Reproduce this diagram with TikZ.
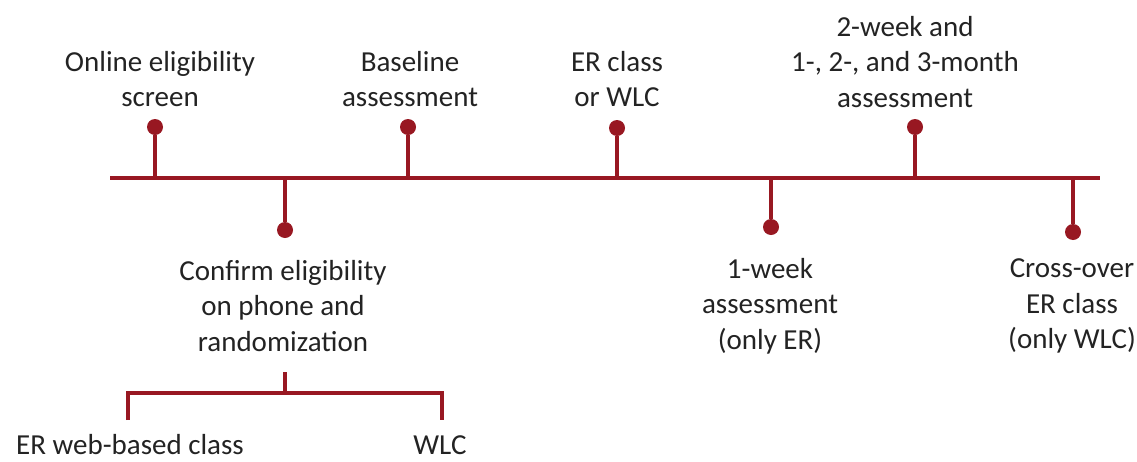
\documentclass[tikz,border=0pt]{standalone}
\usepackage{fontspec}
\setmainfont{Carlito}
\usetikzlibrary{positioning}
\definecolor{timered}{RGB}{152, 24, 34}
\definecolor{labelgray}{RGB}{35, 35, 35}

\begin{document}
\begin{tikzpicture}[
  x=1pt, y=-1pt,
  font=\fontsize{29}{35.5}\selectfont,
  axis/.style={draw=timered, line width=3.8pt},
  stem/.style={draw=timered, line width=3.2pt},
  dot/.style={circle, fill=timered, inner sep=0pt, minimum size=16pt},
  event/.style={align=center, inner sep=0pt, text=labelgray}
]
\useasboundingbox (0,0) rectangle (1137,461);

% time axis
\coordinate (tstart) at (110,178);
\coordinate (tend) at (1100,178);
\draw[axis] (tstart) -- (tend);

% events above the axis
\node[dot] (screen) at (155,127) {};
\node[dot] (baseline) at (408,127) {};
\node[dot] (erclass) at (617,128) {};
\node[dot] (followup) at (915,127) {};
\foreach \d in {screen, baseline, erclass, followup}
  \draw[stem] (\d) -- (\d |- tstart);

\node[event] (screentxt) at (160,79) {Online eligibility\\screen};
\node[event] (baselinetxt) at (410,79) {Baseline\\assessment};
\node[event] (erclasstxt) at (617,79) {ER class\\or WLC};
\node[event] (followuptxt) at (905,62) {2-week and\\1-, 2-, and 3-month\\assessment};

% events below the axis
\node[dot] (confirm) at (285,230) {};
\node[dot] (oneweek) at (771,227) {};
\node[dot] (crossover) at (1073,232) {};
\foreach \d in {confirm, oneweek, crossover}
  \draw[stem] (\d) -- (\d |- tstart);

\node[event] (confirmtxt) at (283,306) {Confirm eligibility\\on phone and\\randomization};
\node[event] (oneweektxt) at (770,306) {1-week\\assessment\\(only ER)};
\node[event] (crossovertxt) at (1072,306) {Cross-over\\ER class\\(only WLC)};

% randomization branches
\coordinate (rand) at (285,372);
\coordinate (split) at (285,393);
\coordinate (armL) at (128,420);
\coordinate (armR) at (442,420);
\draw[stem] (rand) -- (split);
\draw[stem] (armL) -- (armL |- split) -- (armR |- split) -- (armR);

\node[event] (webtxt) at (130,445) {ER web-based class};
\node[event] (wlctxt) at (440,445) {WLC};
\end{tikzpicture}
\end{document}
